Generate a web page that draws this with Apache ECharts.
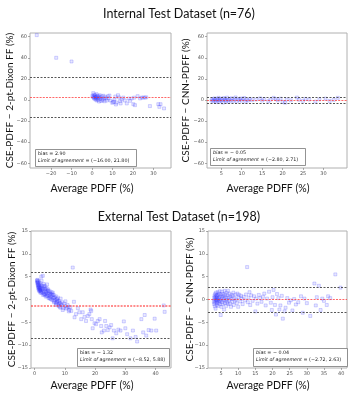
<!DOCTYPE html>
<html><head><meta charset="utf-8">
<script src="https://cdn.jsdelivr.net/npm/echarts@6/dist/echarts.min.js"></script>
<style>html,body{margin:0;padding:0;background:#fff}#c{width:349px;height:400px}</style>
</head><body><div id="c"></div>
<script>
// ---- data ----
const intDixonPoints = [[-27,61.5],[-17.5,40],[-10,36.5],
[0.2,4.0],[0.5,3.0],[0.6,6.5],[0.8,2.5],[1.0,5.0],[1.0,1.5],[1.2,3.5],[1.4,2.0],[1.5,4.5],[1.6,0.5],[1.8,3.0],[2.0,1.0],[2.0,2.5],[2.2,5.5],[2.3,-0.5],[2.5,3.5],[2.7,1.5],[2.9,4.0],[3.0,0.0],[3.2,2.0],[3.4,-1.5],[3.6,3.0],[3.8,4.5],[4.0,1.0],[4.3,2.5],[4.5,-1.0],[4.8,3.5],[5.0,0.5],[5.3,-0.3],[5.6,4.0],[6.0,1.5],[6.2,-1.2],[6.5,3.0],[7.0,1.5],[7.3,-0.5],[7.8,3.5],[8.1,1.4],[8.5,4.2],[9.0,-0.5],[9.9,-2.7],[10.3,-2.0],[10.7,-1.5],[11.0,0.5],[11.4,3.3],[11.7,-4.3],[12.0,-2.5],[12.7,4.5],[13.2,2.5],[13.7,-1.1],[14.0,-3.3],[14.5,0.5],[15.3,2.3],[16.0,-0.5],[17.0,-3.3],[17.9,1.4],[18.6,-0.8],[19.4,1.4],[20.2,-4.0],[20.6,2.2],[21.0,-4.9],[22.3,3.6],[23.5,1.5],[24.3,2.3],[25.1,2.3],[25.9,2.3],[26.5,2.5],[28.3,-5.8],[32.4,-4.0],[32.9,-6.5],[33.5,-4.0],[35.2,-8.0]];
const intCnnPoints = [[2.6,-0.5],[2.8,0.8],[3.0,-1.2],[3.1,0.3],[3.3,1.5],[3.5,-0.8],[3.6,0.5],[3.8,-2.0],[4.0,1.0],[4.1,-0.3],[4.3,2.0],[4.5,-1.5],[4.6,0.2],[4.8,1.2],[5.0,-0.6],[5.2,0.9],[5.4,-2.5],[5.6,1.8],[5.8,-0.2],[6.0,0.6],[6.2,-1.0],[6.4,2.2],[6.6,0.0],[6.8,-1.8],[7.0,1.1],[7.3,-0.4],[7.6,1.6],[7.9,-0.9],[8.2,0.4],[8.5,2.4],[8.8,-1.3],[9.1,0.7],[9.4,-0.1],[9.7,1.4],[10.0,-0.7],[10.3,0.9],[10.6,1.9],[10.9,-1.6],[11.2,0.2],[11.6,-0.5],[12.0,1.0],[12.5,-0.2],[13.5,0.4],[14.5,1.5],[15.0,-0.6],[15.5,0.8],[16.5,-1.2],[17.0,0.3],[17.8,2.0],[18.3,0.9],[18.8,-0.4],[19.5,1.2],[20.0,-1.8],[20.6,-2.6],[21.0,0.5],[22.0,-0.3],[23.5,2.3],[24.0,0.2],[25.0,-0.8],[25.6,1.0],[26.5,0.4],[28.0,-1.5],[29.0,0.6],[30.5,1.3],[31.5,-0.9],[32.5,0.1],[33.5,2.0]];
const extDixonPoints = [[0.8,4.2],[1.0,3.7],[1.2,3.2],[1.45,2.6],[1.7,2.2],[1.9,1.9],[2.1,1.7],[2.3,4.1],[2.7,5.2],[3.0,3.0],[3.2,1.2],[3.4,2.3],[3.8,1.5],[4.1,3.3],[4.3,0.8],[4.5,1.9],[4.9,0.4],[5.2,1.3],[5.4,0.1],[5.8,1.2],[6.0,1.5],[6.3,-0.3],[6.5,0.4],[6.9,-0.7],[7.1,-1.2],[7.4,0.1],[7.6,-0.3],[7.9,-1.4],[8.2,-0.7],[8.5,-1.8],[8.7,-1.0],[9.3,-2.3],[10.0,-1.4],[10.2,-0.4],[10.7,-1.8],[11.2,-1.6],[11.5,-2.3],[12.1,-2.5],[12.6,7.0],[13.0,-0.5],[13.2,-3.9],[13.7,-3.2],[14.3,-1.9],[14.8,-2.8],[15.4,-4.3],[15.9,-2.8],[16.5,-3.8],[17.0,-4.7],[17.6,-3.6],[18.1,-3.2],[18.5,-2.2],[18.7,-2.5],[18.9,-4.3],[19.2,-6.3],[19.8,-5.2],[20.3,-5.4],[20.9,-4.7],[21.5,-4.3],[22.0,-5.8],[22.2,-7.2],[22.9,-6.8],[23.3,-4.7],[23.7,-5.8],[24.2,-6.7],[24.8,-6.1],[25.3,-5.6],[25.8,-8.5],[26.2,-6.8],[27.0,-7.4],[27.7,-6.6],[28.4,-6.8],[29.5,-4.8],[30.0,-6.3],[30.6,-7.6],[31.7,-8.5],[32.5,-6.8],[33.4,-8.2],[33.9,-9.2],[35.3,-4.3],[35.9,-7.2],[36.4,-3.4],[36.9,-7.9],[37.7,-6.7],[38.6,-6.8],[39.7,-4.2],[40.2,-6.8],[42.7,-1.3],[43.0,-2.7],
[0.8,4.0],[0.9,3.6],[1.0,4.3],[1.0,3.2],[1.1,3.9],[1.1,2.8],[1.2,3.5],[1.2,2.4],[1.3,3.1],[1.3,4.0],[1.4,2.7],[1.4,2.0],[1.5,3.3],[1.5,2.3],[1.6,2.9],[1.6,1.8],[1.7,2.5],[1.7,3.6],[1.8,2.1],[1.9,2.8],[1.9,1.5],[2.0,2.4],[2.0,3.2],[2.1,1.9],[2.2,2.6],[2.2,5.0],[2.3,1.4],[2.4,2.2],[2.5,3.0],[2.6,1.6],[2.7,2.4],[2.8,1.0],[2.9,2.0],[3.0,3.4],[3.1,1.3],[3.2,2.6],[3.3,0.9],[3.4,1.8],[3.5,2.9],[3.6,1.1],[3.7,2.2],[3.8,0.6],[3.9,1.6],[4.0,2.5],[4.1,0.8],[4.2,1.9],[4.4,1.2],[4.5,2.2],[4.6,0.3],[4.7,1.5],[4.9,0.9],[5.0,1.8],[5.1,0.2],[5.3,1.1],[5.5,0.6],[5.6,1.6],[5.8,-0.1],[5.9,0.9],[6.1,0.3],[6.3,1.0],[6.4,-0.6],[6.6,0.5],[6.8,-0.2],[7.0,0.7],[7.2,-0.9],[7.3,0.0],[7.5,-0.5],[7.7,0.4],[7.9,-1.1],[8.0,-0.3],[8.3,-1.6],[8.4,-0.8],[8.6,0.2],[8.9,-1.3],[9.1,-0.6],[9.5,-1.9],[9.8,-0.9],[10.4,-2.0],[10.9,-1.2],[11.3,-2.6],[11.8,-1.7]];
const extCnnPoints = [[2.9,-0.5],[3.0,0.4],[3.0,-1.0],[3.1,0.9],[3.1,-0.2],[3.2,-1.5],[3.2,0.2],[3.3,1.2],[3.3,-0.7],[3.4,0.6],[3.4,-2.0],[3.5,0.0],[3.5,1.5],[3.6,-0.4],[3.6,0.8],[3.7,-1.2],[3.7,0.3],[3.8,1.0],[3.8,-0.1],[3.9,-0.8],[3.9,0.5],[4.0,1.6],[4.0,-0.3],[4.1,0.1],[4.2,-1.4],[4.2,0.9],[4.3,-0.6],[4.4,1.3],[4.4,0.3],[4.5,-0.2],[4.6,1.8],[4.6,-1.0],[4.7,0.6],[4.8,-0.4],[4.9,-3.4],[4.9,1.1],[5.0,0.0],[5.1,-1.6],[5.2,0.7],[5.3,1.7],[5.3,-0.6],[5.4,0.3],[5.5,-1.1],[5.6,1.2],[5.7,-0.2],[5.8,0.8],[5.9,-2.2],[6.0,1.9],[6.0,0.2],[6.1,-0.8],[6.2,1.0],[6.3,-0.3],[6.4,0.5],[6.5,-1.4],[6.6,1.5],[6.7,0.0],[6.8,-0.6],[6.9,0.9],[7.0,1.9],[7.1,-1.0],[7.2,0.4],[7.3,-0.2],[7.5,1.3],[7.6,-0.9],[7.7,0.6],[7.9,-1.6],[8.0,0.1],[8.1,1.0],[8.3,-0.5],[8.4,0.7],[8.6,1.5],[8.7,-1.2],[8.9,0.3],[9.0,-0.3],[9.2,1.1],[9.4,0.0],[9.6,-0.8],[9.8,1.3],[10.0,-1.6],[10.1,0.5],[10.3,1.0],[10.6,-0.4],[10.8,0.8],[11.0,0.2],[11.3,-1.0],[11.6,0.6],[12.0,-0.2],[12.3,1.1],[12.6,7.1],[12.8,-0.6],[13.0,0.4],[13.3,1.6],[13.5,-1.2],[13.8,0.9],[14.2,-0.3],[14.6,0.7],[15.0,-2.6],[15.2,0.2],[15.6,-0.9],[16.0,1.0],[16.4,0.3],[16.8,-0.5],[17.2,0.6],[17.6,1.3],[18.0,-1.3],[18.4,0.2],[19.0,1.7],[19.5,-0.7],[19.8,-2.3],[20.0,0.5],[20.3,2.1],[20.7,-1.2],[21.0,-3.3],[21.3,1.2],[21.7,0.3],[22.0,-2.2],[22.3,-1.3],[22.7,0.8],[23.0,-4.2],[23.5,-2.6],[23.8,-1.8],[24.3,0.3],[24.8,-0.7],[25.3,-0.2],[25.8,-2.4],[26.3,0.1],[26.8,-1.1],[27.5,-0.6],[28.3,0.7],[28.8,-2.9],[29.3,0.2],[30.0,-0.8],[31.0,-3.6],[32.2,3.5],[32.6,-1.3],[32.9,0.5],[33.5,3.0],[34.0,-2.3],[34.5,0.2],[35.0,-0.3],[35.8,-1.2],[36.2,0.7],[36.8,0.3],[38.3,5.5],[39.8,2.6]];

const biasValues = [2.90, -0.05, -1.32, -0.04];
const loaLow = [-16.00, -2.80, -8.52, -2.72];
const loaHigh = [21.80, 2.71, 5.88, 2.63];

const xTicks = [[-20,-10,0,10,20,30],[5,10,15,20,25,30],[0,10,20,30,40],[5,10,15,20,25,30,35,40]];
const yTicksInt = [-60,-40,-20,0,20,40,60];
const yTicksExt = [-15,-10,-5,0,5,10,15];
const xRanges = [[-30.3,38.6],[1.5,35.75],[-1.2,45.1],[1.2,41.7]];
const yRanges = [[-64.5,63.5],[-64.5,63.5],[-15,15],[-15,15]];

const titles = ['Internal Test Dataset (n=76)', 'External Test Dataset (n=198)'];
const yNames = ['CSE-PDFF − 2-pt-Dixon FF (%)','CSE-PDFF − CNN-PDFF (%)','CSE-PDFF − 2-pt-Dixon FF (%)','CSE-PDFF − CNN-PDFF (%)'];
const xName = 'Average PDFF (%)';
const biasLabels = ['bias = 2.90','{i|bias} = − 0.05','bias = − 1.32','{i|bias} = − 0.04'];
const loaLabels = ['{i|Limit of agreement} = (−16.00, 21.80)','{i|Limit of agreement} = (−2.80, 2.71)','{i|Limit of agreement} = (−8.52, 5.88)','{i|Limit of agreement} = (−2.72, 2.63)'];

// ---- layout ----
const grids = [
  {left:30, top:33, width:141, height:135},
  {left:207, top:33, width:140, height:135},
  {left:31, top:231, width:140, height:137},
  {left:208, top:231, width:139, height:137}
];
const allPoints = [intDixonPoints, intCnnPoints, extDixonPoints, extCnnPoints];
const fmt = v => String(v).replace('-', '−');
const tickLabelStyle = {fontSize:5, color:'#555', fontFamily:'DejaVu Sans', margin:3};

const option = {
  animation:false,
  backgroundColor:'#fff',
  grid: grids.map(g => Object.assign({show:true, borderColor:'#b0b0b0', borderWidth:1, backgroundColor:'transparent'}, g)),
  xAxis: grids.map((g,i) => ({
    type:'value', gridIndex:i, min:xRanges[i][0], max:xRanges[i][1], position:'bottom',
    splitLine:{show:false}, axisLine:{show:false, onZero:false},
    axisTick:{show:true, length:2, lineStyle:{color:'#777', width:0.6}, customValues:xTicks[i]},
    axisLabel:Object.assign({customValues:xTicks[i], formatter:fmt}, tickLabelStyle)
  })),
  yAxis: grids.map((g,i) => ({
    type:'value', gridIndex:i, min:yRanges[i][0], max:yRanges[i][1], position:'left',
    splitLine:{show:false}, axisLine:{show:false, onZero:false},
    axisTick:{show:true, length:2, lineStyle:{color:'#777', width:0.6}, customValues: i<2?yTicksInt:yTicksExt},
    axisLabel:Object.assign({customValues: i<2?yTicksInt:yTicksExt, formatter:fmt}, tickLabelStyle)
  })),
  series: allPoints.map((pts,i) => ({
    type:'scatter', xAxisIndex:i, yAxisIndex:i, data:pts,
    symbol:'rect', symbolSize:3,
    itemStyle:{color:'rgba(110,110,255,0.2)', borderColor:'rgba(30,30,255,0.38)', borderWidth:0.6},
    markLine:{
      silent:true, symbol:'none', label:{show:false}, animation:false,
      data:[
        {yAxis:loaHigh[i], lineStyle:{color:'#444', type:[2,1.5], width:0.9}},
        {yAxis:loaLow[i], lineStyle:{color:'#444', type:[2,1.5], width:0.9}},
        {yAxis:biasValues[i], lineStyle:{color:'rgba(255,40,40,0.7)', type:[2,1.2], width: i===2?1.6:1}}
      ]
    }
  })),
  graphic: []
};

const G = option.graphic;
// titles
G.push({type:'text', x:179, y:14, style:{text:titles[0], font:'12.5px Lato', fill:'#111', textAlign:'center', textVerticalAlign:'middle'}});
G.push({type:'text', x:179, y:216.5, style:{text:titles[1], font:'12.5px Lato', fill:'#111', textAlign:'center', textVerticalAlign:'middle'}});
// axis names
const yNamePos = [[10,100.5],[186,100.5],[12,299.5],[190,299.5]];
const xNamePos = [[92,189],[268,189],[92,386],[268,386]];
for (let i=0;i<4;i++){
  G.push({type:'text', x:yNamePos[i][0], y:yNamePos[i][1], rotation:Math.PI/2,
    style:{text:yNames[i], font:'10px Lato', fill:'#111', textAlign:'center', textVerticalAlign:'middle'}});
  G.push({type:'text', x:xNamePos[i][0], y:xNamePos[i][1],
    style:{text:xName, font:'10.5px Lato', fill:'#111', textAlign:'center', textVerticalAlign:'middle'}});
}
// annotation boxes
const boxes = [[35,149,101,17],[210,148,95,17],[77,348,92,18],[253,348,94,18]];
for (let i=0;i<4;i++){
  const b = boxes[i];
  G.push({type:'rect', shape:{x:b[0]+0.5, y:b[1]+0.5, width:b[2], height:b[3]},
    style:{fill:'#fff', stroke:'#777', lineWidth:0.8}, z:100});
  G.push({type:'text', z:101, x:b[0]+3, y:b[1]+5,
    style:{text:biasLabels[i], fontFamily:'DejaVu Sans', fontSize:4.8, fill:'#222', textVerticalAlign:'middle',
      rich:{i:{fontStyle:'italic', fontFamily:'DejaVu Sans', fontSize:4.8, fill:'#222'}}}});
  G.push({type:'text', z:101, x:b[0]+3, y:b[1]+11.5,
    style:{text:loaLabels[i], fontFamily:'DejaVu Sans', fontSize:4.8, fill:'#222', textVerticalAlign:'middle',
      rich:{i:{fontStyle:'italic', fontFamily:'DejaVu Sans', fontSize:4.8, fill:'#222'}}}});
}

const chart = echarts.init(document.getElementById('c'), null, {renderer:'canvas'});
chart.setOption(option);
</script>
</body></html>
